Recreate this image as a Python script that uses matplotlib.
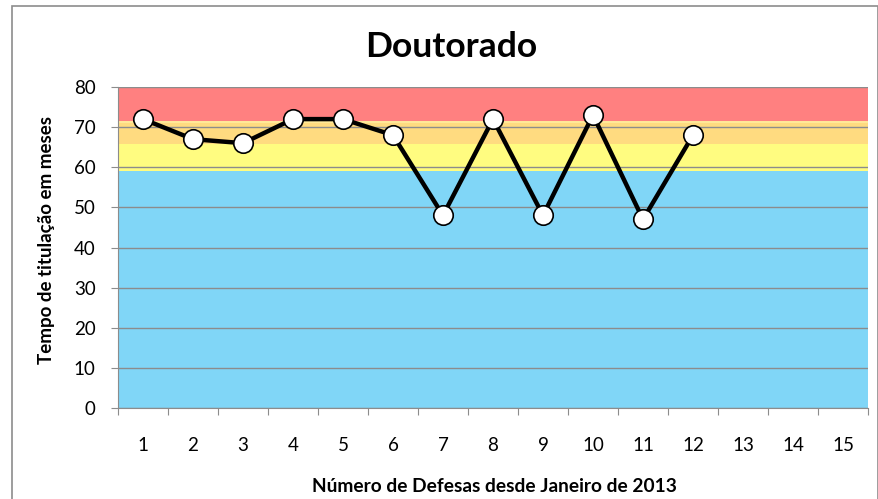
import matplotlib.pyplot as plt
import numpy as np
from matplotlib.patches import Rectangle

# dados
defesas = [1, 2, 3, 4, 5, 6, 7, 8, 9, 10, 11, 12]
meses = [72, 67, 66, 72, 72, 68, 48, 72, 48, 73, 47, 68]
categorias = list(range(1, 16))

# faixas de fundo (limite inferior, limite superior, cor)
faixas = [(0, 59, '#80D6F7'), (59, 65.7, '#FFFC80'), (65.7, 71, '#FFDB80'),
          (71, 71.6, '#FFE898'), (71.6, 80, '#FF8080')]

plt.rcParams['font.family'] = ['Lato', 'DejaVu Sans']

W, H = 879, 499
fig = plt.figure(figsize=(W/100, H/100), dpi=100)
ax = fig.add_axes([118/W, 91/H, 750/W, 321/H])

for lo, hi, cor in faixas:
    ax.axhspan(lo, hi, color=cor, lw=0, zorder=0)

ax.set_ylim(0, 80)
ax.set_xlim(0.5, 15.5)
ax.set_yticks(np.arange(0, 81, 10))
ax.yaxis.grid(True, color='#8c8c8c', lw=1, zorder=1)
ax.set_axisbelow(False)

ax.set_xticks(np.arange(0.5, 15.6, 1))
ax.set_xticklabels([])
ax.set_xticks(categorias, minor=True)
ax.set_xticklabels([str(c) for c in categorias], minor=True)
ax.tick_params(axis='x', which='major', length=5, color='#8c8c8c', direction='out')
ax.tick_params(axis='x', which='minor', length=0, pad=21, labelsize=13.5)
ax.tick_params(axis='y', length=5, color='#8c8c8c', labelsize=13.5, pad=11)

for s in ['top', 'right']:
    ax.spines[s].set_visible(False)
for s in ['left', 'bottom']:
    ax.spines[s].set_color('#8c8c8c')

ax.plot(defesas, meses, color='black', lw=3.2, marker='o', markersize=14,
        markerfacecolor='white', markeredgecolor='black', markeredgewidth=1.2,
        zorder=3, clip_on=False)

fig.text(451/W, 1 - 47/H, 'Doutorado', fontsize=25.5, fontweight='bold',
         ha='center', va='center')
fig.text(47/W, 1 - 240/H, 'Tempo de titulação em meses', fontsize=13.5,
         fontweight='bold', rotation=90, ha='center', va='center')
fig.text(494/W, 1 - 487/H, 'Número de Defesas desde Janeiro de 2013', fontsize=13.8,
         fontweight='bold', ha='center', va='center')

fig.patches.append(Rectangle((12/W, -0.01), 866/W, 1 - 6/H + 0.01,
                             transform=fig.transFigure, fill=False,
                             edgecolor='#8c8c8c', lw=1.2))

fig.savefig('out.png', dpi=100)
